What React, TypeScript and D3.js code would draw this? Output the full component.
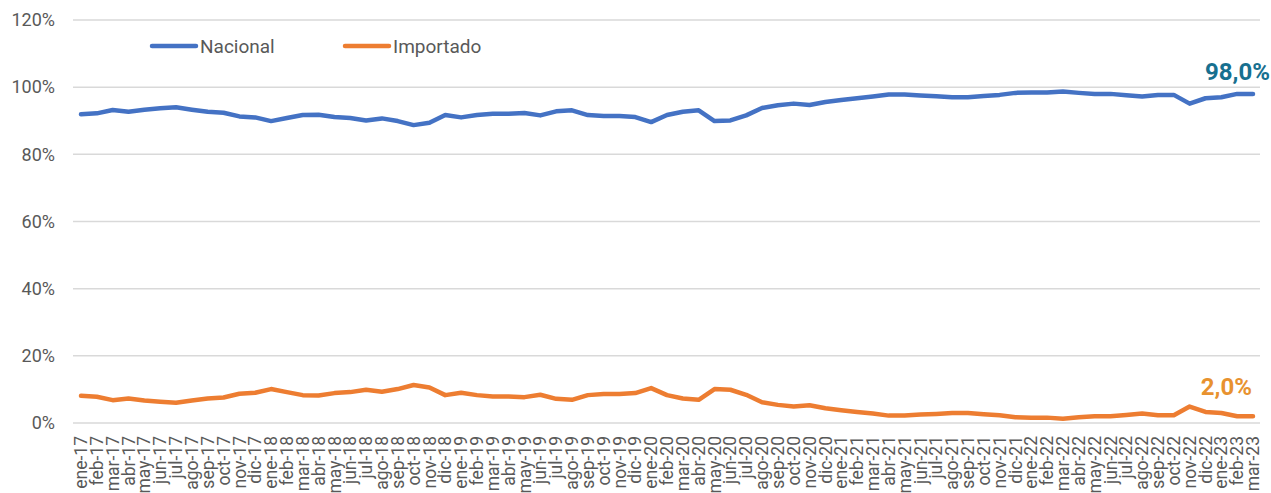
import React, { useEffect, useRef } from 'react';
import * as d3 from 'd3';

// meses ene-17 .. mar-23
const months = ['ene', 'feb', 'mar', 'abr', 'may', 'jun', 'jul', 'ago', 'sep', 'oct', 'nov', 'dic'];
const categories: string[] = [];
for (let yr = 17; yr <= 23; yr++) {
  for (const m of months) {
    if (yr === 23 && categories.length >= 75) break;
    categories.push(`${m}-${yr}`);
  }
}
categories.length = 75;

const nacional = [
  91.9, 92.2, 93.2, 92.7, 93.3, 93.7, 94.0, 93.3, 92.7, 92.4, 91.3, 91.0,
  89.9, 90.8, 91.7, 91.8, 91.1, 90.8, 90.1, 90.7, 89.9, 88.7, 89.4, 91.7,
  91.0, 91.7, 92.1, 92.1, 92.3, 91.6, 92.8, 93.1, 91.7, 91.4, 91.4, 91.1,
  89.6, 91.7, 92.7, 93.1, 89.9, 90.1, 91.6, 93.8, 94.6, 95.1, 94.7, 95.6,
  96.2, 96.7, 97.2, 97.8, 97.8, 97.5, 97.3, 97.0, 97.0, 97.4, 97.7, 98.3,
  98.4, 98.4, 98.7, 98.3, 98.0, 98.0, 97.6, 97.2, 97.7, 97.7, 95.1, 96.7,
  97.0, 98.0, 98.0,
];

const importado = [
  8.1, 7.8, 6.8, 7.3, 6.7, 6.3, 6.0, 6.7, 7.3, 7.6, 8.7, 9.0,
  10.1, 9.2, 8.3, 8.2, 8.9, 9.2, 9.9, 9.3, 10.1, 11.3, 10.6, 8.3,
  9.0, 8.3, 7.9, 7.9, 7.7, 8.4, 7.2, 6.9, 8.3, 8.6, 8.6, 8.9,
  10.4, 8.3, 7.3, 6.9, 10.1, 9.9, 8.4, 6.2, 5.4, 4.9, 5.3, 4.4,
  3.8, 3.3, 2.8, 2.2, 2.2, 2.5, 2.7, 3.0, 3.0, 2.6, 2.3, 1.7,
  1.6, 1.6, 1.3, 1.7, 2.0, 2.0, 2.4, 2.8, 2.3, 2.3, 4.9, 3.3,
  3.0, 2.0, 2.0,
];

const yTicks = [0, 20, 40, 60, 80, 100, 120];

const series = [
  { name: 'Nacional', values: nacional, color: '#4472C4', label: '98,0%', labelColor: '#17708F' },
  { name: 'Importado', values: importado, color: '#ED7D31', label: '2,0%', labelColor: '#E8922F' },
];

const W = 1271;
const H = 493;

export default function App() {
  const ref = useRef<SVGSVGElement>(null);

  useEffect(() => {
    document.body.style.margin = '0';
    const svg = d3.select(ref.current);
    svg.selectAll('*').remove();

    const x = d3.scalePoint<string>().domain(categories).range([81, 1253]);
    const y = d3.scaleLinear().domain([0, 120]).range([423, 20]);
    const font = 'Roboto, Arial, sans-serif';

    // grid
    svg.append('g')
      .selectAll('line')
      .data(yTicks)
      .join('line')
      .attr('x1', 73)
      .attr('x2', 1260)
      .attr('y1', d => y(d))
      .attr('y2', d => y(d))
      .attr('stroke', '#D9D9D9')
      .attr('stroke-width', 1.5);

    // y labels
    svg.append('g')
      .selectAll('text')
      .data(yTicks)
      .join('text')
      .attr('x', 55)
      .attr('y', d => y(d))
      .attr('dy', '0.35em')
      .attr('text-anchor', 'end')
      .attr('font-family', font)
      .attr('font-size', 18)
      .attr('fill', '#595959')
      .text(d => `${d}%`);

    // x labels
    svg.append('g')
      .selectAll('text')
      .data(categories)
      .join('text')
      .attr('transform', d => `translate(${x(d)},436) rotate(-90)`)
      .attr('dy', '0.35em')
      .attr('text-anchor', 'end')
      .attr('font-family', font)
      .attr('font-size', 17.5)
      .attr('fill', '#595959')
      .text(d => d);

    const line = d3.line<number>()
      .x((_, i) => x(categories[i]) as number)
      .y(d => y(d));

    series.forEach(s => {
      svg.append('path')
        .datum(s.values)
        .attr('d', line)
        .attr('fill', 'none')
        .attr('stroke', s.color)
        .attr('stroke-width', 4.5)
        .attr('stroke-linejoin', 'round')
        .attr('stroke-linecap', 'round');
    });

    // end labels
    svg.append('text')
      .attr('x', 1270).attr('y', 80)
      .attr('text-anchor', 'end')
      .attr('font-family', font).attr('font-weight', 'bold').attr('font-size', 24)
      .attr('fill', series[0].labelColor)
      .text(series[0].label);
    svg.append('text')
      .attr('x', 1252).attr('y', 395)
      .attr('text-anchor', 'end')
      .attr('font-family', font).attr('font-weight', 'bold').attr('font-size', 24)
      .attr('fill', series[1].labelColor)
      .text(series[1].label);

    // legend
    const legendX = [152, 345];
    series.forEach((s, i) => {
      const g = svg.append('g').attr('transform', `translate(${legendX[i]},46)`);
      g.append('line')
        .attr('x1', 0).attr('x2', 44)
        .attr('stroke', s.color).attr('stroke-width', 4.5).attr('stroke-linecap', 'round');
      g.append('text')
        .attr('x', 48).attr('dy', '0.35em')
        .attr('font-family', font).attr('font-size', 19)
        .attr('fill', '#595959')
        .text(s.name);
    });
  }, []);

  return <svg ref={ref} width={W} height={H} style={{ display: 'block' }} />;
}
